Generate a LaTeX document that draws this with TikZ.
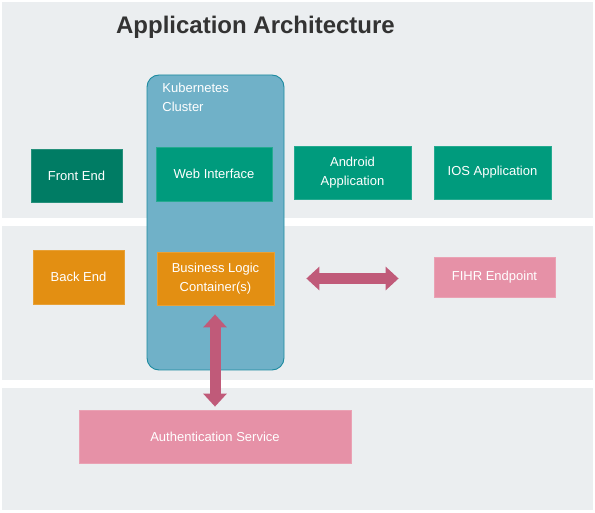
\documentclass[tikz,border=0pt]{standalone}
\usepackage{fontspec}
\setmainfont{Liberation Sans}
\usetikzlibrary{arrows.meta}

\definecolor{bandgray}{HTML}{EBEEF0}
\definecolor{clusterblue}{HTML}{70B1C8}
\definecolor{clusteredge}{HTML}{1C8AA0}
\definecolor{darkteal}{HTML}{007C64}
\definecolor{teal}{HTML}{009B7D}
\definecolor{orange}{HTML}{E38F12}
\definecolor{pink}{HTML}{E691A7}
\definecolor{arrowpink}{HTML}{C05A79}
\definecolor{titlegray}{HTML}{333333}

\tikzset{
  box/.style={rectangle, inner sep=0pt, text=white, align=center,
    font=\fontsize{13}{19}\selectfont, line width=0.8pt},
  fatarrow/.style={arrowpink, line width=11pt,
    {Triangle[width=23pt,length=13pt]}-{Triangle[width=23pt,length=13pt]}}
}

\begin{document}
\begin{tikzpicture}[x=1pt,y=-1pt]
        \useasboundingbox (0,0) rectangle (595,513);

        %bands
        \fill[bandgray] (2,2) rectangle (593,218);
        \fill[bandgray] (2,226) rectangle (593,380);
        \fill[bandgray] (2,388) rectangle (593,510);

        %title
        \node[text=titlegray, font=\fontsize{24}{28}\selectfont\bfseries] (title) at (255.5,27) {Application Architecture};

        %cluster
        \filldraw[fill=clusterblue, draw=clusteredge, line width=0.9pt, rounded corners=12pt] (147,75) rectangle (284,370);
        \node[box, anchor=north west, align=left] (clusterlabel) at (162,83) {Kubernetes\\Cluster};

        %top row
        \node[box, fill=darkteal, draw=darkteal!85!white, minimum width=91pt, minimum height=53pt] (front) at (76.5,175.5) {Front End};
        \node[box, fill=teal, draw=teal!85!white, minimum width=116pt, minimum height=54pt] (web) at (214,174) {Web Interface};
        \node[box, fill=teal, draw=teal!85!white, minimum width=117pt, minimum height=53pt] (android) at (352.5,172.5) {Android\\Application};
        \node[box, fill=teal, draw=teal!85!white, minimum width=117pt, minimum height=53pt] (ios) at (492.5,172.5) {IOS Application};

        %middle row
        \node[box, fill=orange, draw=orange!85!white, minimum width=91pt, minimum height=54pt] (back) at (78.5,277) {Back End};
        \node[box, fill=orange, draw=orange!85!white, minimum width=117pt, minimum height=53pt] (logic) at (215.5,278.5) {Business Logic\\Container(s)};
        \node[box, fill=pink, draw=pink!85!white, minimum width=121pt, minimum height=40pt] (fihr) at (494.5,277) {FIHR Endpoint};

        %bottom row
        \node[box, fill=pink, draw=pink!85!white, minimum width=272pt, minimum height=53pt] (auth) at (215,436.5) {Authentication Service};

        %arrows
        \draw[fatarrow, shorten <=32pt, shorten >=35pt] (logic.east) -- (logic.east -| fihr.west);
        \draw[fatarrow, shorten <=9pt, shorten >=3pt] (logic.south -| auth.north) -- (auth.north);

\end{tikzpicture}
\end{document}
